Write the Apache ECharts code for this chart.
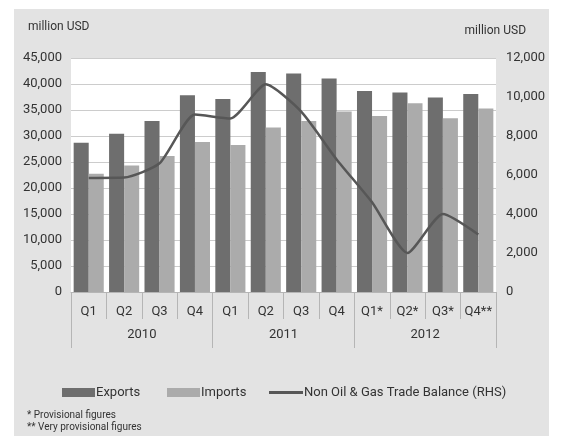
<!DOCTYPE html>
<html>
<head>
<meta charset="utf-8">
<script src="https://cdn.jsdelivr.net/npm/echarts@6/dist/echarts.min.js"></script>
<style>
  html, body { margin: 0; padding: 0; background: #ffffff; }
  #chart { width: 562px; height: 436px; }
</style>
</head>
<body>
<div id="chart"></div>
<script>
// Quarterly trade figures, million USD
const quarterLabels = ['Q1', 'Q2', 'Q3', 'Q4', 'Q1', 'Q2', 'Q3', 'Q4', 'Q1*', 'Q2*', 'Q3*', 'Q4**'];
const years = ['2010', '2011', '2012'];
const exportsValues = [28700, 30450, 32900, 37850, 37100, 42300, 42000, 41050, 38650, 38350, 37400, 38100];
const importsValues = [22750, 24350, 26150, 28850, 28250, 31650, 32900, 34700, 33850, 36300, 33400, 35300];
const balanceValues = [5850, 5870, 6600, 9100, 8900, 10650, 9250, 6800, 4600, 2000, 4000, 2950];
const leftTicks = { min: 0, max: 45000, interval: 5000 };
const rightTicks = { min: 0, max: 12000, interval: 2000 };
const footnotes = ['* Provisional figures', '** Very provisional figures'];

const categoryKeys = quarterLabels.map((q, i) => years[Math.floor(i / 4)] + ' ' + q);
const FONT = 'Roboto, "Noto Sans", sans-serif';
const TEXT = '#333333';
const LINE_COLOR = '#575757';
const fmt = v => v.toLocaleString('en-US');

const chart = echarts.init(document.getElementById('chart'), null, { renderer: 'canvas' });

const legendText = { fontFamily: FONT, fontSize: 13, color: TEXT, padding: [0, 0, 0, -4] };

chart.setOption({
  animation: false,
  backgroundColor: '#ffffff',
  graphic: [
    { type: 'rect', left: 14, top: 9, shape: { width: 535, height: 427 }, style: { fill: '#e3e3e3' }, z: -10 },
    { type: 'text', left: 28, top: 21, style: { text: 'million USD', font: '12px ' + FONT, fill: TEXT } },
    { type: 'text', right: 36, top: 25, style: { text: 'million USD', font: '12px ' + FONT, fill: TEXT } },
    { type: 'text', left: 27, top: 410, style: { text: footnotes[0], font: '10px ' + FONT, fill: TEXT } },
    { type: 'text', left: 27, top: 422, style: { text: footnotes[1], font: '10px ' + FONT, fill: TEXT } }
  ],
  grid: {
    left: 71, right: 66, top: 58, bottom: 144,
    show: true, backgroundColor: '#ffffff', borderWidth: 0
  },
  legend: [
    { left: 57, top: 381, itemWidth: 33, itemHeight: 9, selectedMode: false,
      textStyle: legendText, data: [{ name: 'Exports', icon: 'rect' }] },
    { left: 162, top: 381, itemWidth: 33, itemHeight: 9, selectedMode: false,
      textStyle: legendText, data: [{ name: 'Imports', icon: 'rect' }] },
    { left: 264, top: 381, itemWidth: 34, itemHeight: 3, selectedMode: false,
      textStyle: legendText, data: [{ name: 'Non Oil & Gas Trade Balance (RHS)', icon: 'rect' }] }
  ],
  xAxis: [
    {
      type: 'category',
      data: categoryKeys,
      position: 'bottom',
      axisLine: { show: true, lineStyle: { color: '#b5b5b5', width: 1 } },
      axisTick: { show: true, length: 27, alignWithLabel: false, interval: 0, lineStyle: { color: '#b5b5b5' } },
      axisLabel: {
        interval: 0, margin: 13, fontFamily: FONT, fontSize: 13, color: TEXT,
        formatter: (v, i) => quarterLabels[i]
      }
    },
    {
      type: 'category',
      data: years,
      position: 'bottom',
      axisLine: { show: false },
      axisTick: { show: true, length: 56, interval: 0, lineStyle: { color: '#b5b5b5' } },
      axisLabel: { interval: 0, margin: 36, fontFamily: FONT, fontSize: 13, color: TEXT }
    }
  ],
  yAxis: [
    {
      type: 'value',
      min: leftTicks.min, max: leftTicks.max, interval: leftTicks.interval,
      axisLine: { show: false }, axisTick: { show: false },
      splitLine: { lineStyle: { color: '#cccccc', width: 1 } },
      axisLabel: { margin: 9, fontFamily: FONT, fontSize: 13, color: TEXT, formatter: fmt }
    },
    {
      type: 'value',
      min: rightTicks.min, max: rightTicks.max, interval: rightTicks.interval,
      axisLine: { show: false }, axisTick: { show: false },
      splitLine: { show: false },
      axisLabel: { margin: 10, fontFamily: FONT, fontSize: 13, color: TEXT, formatter: fmt }
    }
  ],
  series: [
    {
      name: 'Exports', type: 'bar', xAxisIndex: 0, yAxisIndex: 0,
      data: exportsValues, barGap: '0%', barCategoryGap: '15%',
      itemStyle: { color: '#6e6e6e' }
    },
    {
      name: 'Imports', type: 'bar', xAxisIndex: 0, yAxisIndex: 0,
      data: importsValues, barGap: '0%', barCategoryGap: '15%',
      itemStyle: { color: '#ababab' }
    },
    {
      name: 'Non Oil & Gas Trade Balance (RHS)', type: 'line', xAxisIndex: 0, yAxisIndex: 1,
      data: balanceValues, symbol: 'none', smooth: 0.2,
      lineStyle: { color: LINE_COLOR, width: 2.5 },
      itemStyle: { color: LINE_COLOR }, z: 5
    }
  ]
});
</script>
</body>
</html>
